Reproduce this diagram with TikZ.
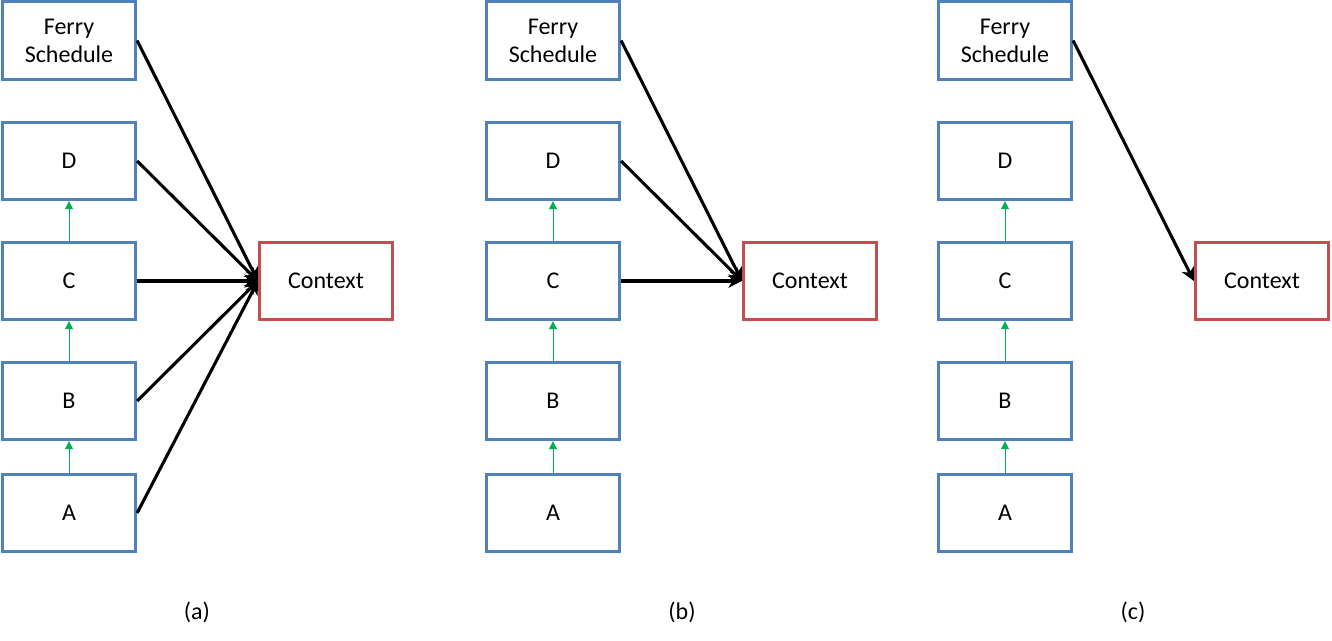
\documentclass[tikz,border=0pt]{standalone}
\usepackage{fontspec}
\setmainfont{Carlito}
\usetikzlibrary{arrows.meta}
\definecolor{boxblue}{RGB}{79,129,189}
\definecolor{boxred}{RGB}{192,80,77}
\definecolor{arrgreen}{RGB}{0,176,80}
\begin{document}
\begin{tikzpicture}[x=0.75pt,y=-0.75pt,
  every node/.style={font=\fontsize{18}{21}\selectfont},
  stepbox/.style={draw=boxblue,line width=2.2pt,minimum width=100pt,minimum height=58pt,inner sep=0pt,align=center},
  ctxbox/.style={stepbox,draw=boxred},
  uparrow/.style={draw=arrgreen,line width=0.7pt,-{Triangle[length=6pt,width=6pt]}},
  bigarrow/.style={draw=black,line width=2.3pt,-{Stealth[length=10pt,width=10pt,inset=3pt]}}]
\useasboundingbox (0,0) rectangle (1332,640);
\foreach \p/\x in {a/0,b/484,c/936}{
  \node[stepbox] (F\p) at (69+\x,40.5) {Ferry\\Schedule};
  \node[stepbox] (D\p) at (69+\x,161) {D};
  \node[stepbox] (C\p) at (69+\x,281) {C};
  \node[stepbox] (B\p) at (69+\x,401) {B};
  \node[stepbox] (A\p) at (69+\x,513) {A};
  \node[ctxbox] (X\p) at (326+\x,281) {Context};
  \draw[uparrow] (A\p.north) -- (B\p.south);
  \draw[uparrow] (B\p.north) -- (C\p.south);
  \draw[uparrow] (C\p.north) -- (D\p.south);
}
\node (la) at (197,612) {(a)};
\node (lb) at (682,612) {(b)};
\node (lc) at (1133,612) {(c)};
\foreach \s in {F,D,C,B,A}{
  \draw[bigarrow] (\s a.east) -- (Xa.west);
}
\foreach \s in {F,D,C}{
  \draw[bigarrow] (\s b.east) -- (Xb.west);
}
\draw[bigarrow] (Fc.east) -- (Xc.west);
\end{tikzpicture}
\end{document}
